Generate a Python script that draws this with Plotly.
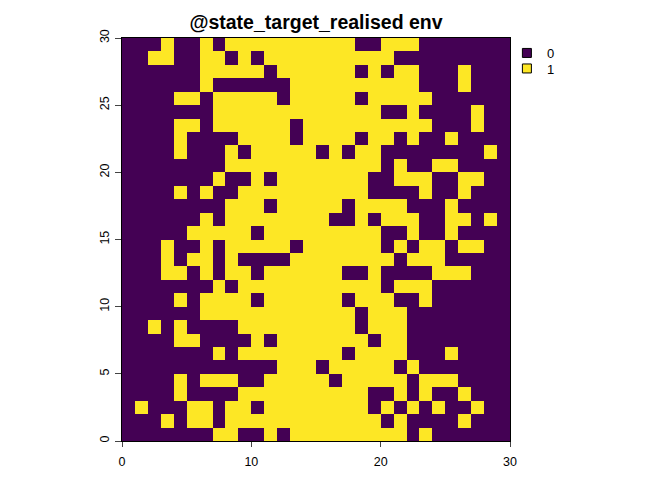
import plotly.graph_objects as go

title_text = "@state_target_realised env"

# grid rows, listed from top (y 29..30) to bottom (y 0..1); each char is a cell value for x = 0..29
grid_rows_top_to_bottom = [
    "000100101111111111001110000000",  # 29
    "001100110101111111111000000000",  # 28
    "000000111110111111010110001000",  # 27
    "000000100000011111111110001000",  # 26
    "000011011111011111011111000000",  # 25
    "000000011111111111110010000100",  # 24
    "000011011111101111111111000100",  # 23
    "000010000111101111011010010000",  # 22
    "000010001011111010110000000010",  # 21
    "000000001111111111110100110000",  # 20
    "000000010010111111100111001100",  # 19
    "000010100111111111100001001000",  # 18
    "000000001110111110111100010000",  # 17
    "000000101111111100101110011010",  # 16
    "000001111101111111110010010000",  # 15
    "000100101111101111110101101100",  # 14
    "000101101000011111111011100000",  # 13
    "000110101101111110010000111000",  # 12
    "000000010111111111110111000000",  # 11
    "000010111101111110111001000000",  # 10
    "000000111111111111011100000000",  # 9
    "001010000111111111011100000000",  # 8
    "000011000010111111101100000000",  # 7
    "000000010111111110111100010000",  # 6
    "000000000000111011111010000000",  # 5
    "000010111001111101111101110000",  # 4
    "000010000111111111100101001000",  # 3
    "010001101101111111101010100100",  # 2
    "000101101111111111110100001000",  # 1
    "000000011001011111111101000000",  # 0
]

x_edges = list(range(31))
y_edges = list(range(31))
class_labels = ["0", "1"]
class_colors = ["#440154", "#FDE725"]
x_ticks = [0, 10, 20, 30]
y_ticks = [0, 5, 10, 15, 20, 25, 30]

z = [[int(ch) for ch in row] for row in reversed(grid_rows_top_to_bottom)]

fig = go.Figure()
fig.add_trace(go.Heatmap(
    z=z, x=x_edges, y=y_edges,
    zmin=0, zmax=1,
    colorscale=[[0, class_colors[0]], [0.5, class_colors[0]],
                [0.5, class_colors[1]], [1, class_colors[1]]],
    showscale=False, hoverinfo="skip",
))
legend_names = ["legend", "legend2"]
for lab, col, lg in zip(class_labels, class_colors, legend_names):
    fig.add_trace(go.Scatter(
        x=[None], y=[None], mode="markers", name=lab, legend=lg,
        marker=dict(symbol="square", size=9, color=col,
                    line=dict(color="black", width=1)),
    ))

font_family = "Liberation Sans, Arial, sans-serif"
legend_style = dict(xanchor="left", yanchor="top",
                    font=dict(family=font_family, size=13, color="black"),
                    bgcolor="rgba(0,0,0,0)", itemwidth=30)
fig.update_layout(
    width=672, height=480,
    margin=dict(l=114, r=170, t=30, b=47),
    paper_bgcolor="white", plot_bgcolor="white",
    title=dict(text="<b>" + title_text + "</b>", x=(114 + 502) / 2 / 672, xanchor="center",
               y=1 - 14 / 480, yanchor="middle",
               font=dict(family=font_family, size=19.5, color="black")),
    showlegend=True,
    legend=dict(x=0.992, y=1.0, **legend_style),
    legend2=dict(x=0.992, y=0.9615, **legend_style),
    font=dict(family=font_family, size=12, color="black"),
)
fig.update_xaxes(range=[0, 30], tickvals=x_ticks, ticks="outside", ticklen=5,
                 showline=True, linecolor="black", linewidth=1, mirror=True,
                 showgrid=False, zeroline=False, tickfont=dict(size=12.5),
                 ticklabelstandoff=4)
fig.update_yaxes(range=[0, 30], tickvals=y_ticks, ticks="outside", ticklen=6,
                 showline=True, linecolor="black", linewidth=1, mirror=True,
                 showgrid=False, zeroline=False, tickangle=-90, tickfont=dict(size=12.5),
                 ticklabelstandoff=1)

fig.write_html("out.html")
